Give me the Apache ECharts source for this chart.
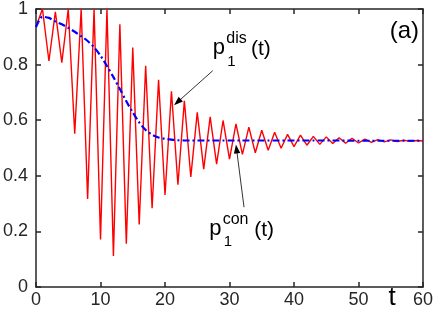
<!DOCTYPE html>
<html><head><meta charset="utf-8">
<script src="https://cdn.jsdelivr.net/npm/echarts@6/dist/echarts.min.js"></script>
<style>html,body{margin:0;padding:0;background:#fff}#c{width:436px;height:316px}</style>
</head><body><div id="c"></div>
<script>
const tValues = [0,1,2,3,4,5,6,7,8,9,10,11,12,13,14,15,16,17,18,19,20,21,22,23,24,25,26,27,28,29,30,31,32,33,34,35,36,37,38,39,40,41,42,43,44,45,46,47,48,49,50,51,52,53,54,55,56,57,58,59,60];
const pDis = [0.936,1.0,0.813,0.99,0.807,1.0,0.551,1.0,0.317,1.0,0.171,1.0,0.112,0.945,0.156,0.861,0.225,0.796,0.283,0.745,0.331,0.704,0.368,0.670,0.396,0.628,0.424,0.612,0.442,0.599,0.460,0.587,0.477,0.575,0.483,0.564,0.492,0.557,0.499,0.549,0.505,0.546,0.510,0.542,0.513,0.540,0.516,0.537,0.517,0.535,0.518,0.532,0.520,0.530,0.522,0.529,0.523,0.528,0.524,0.527,0.525];
const pCon = [0.935,0.972,0.968,0.955,0.945,0.932,0.918,0.902,0.885,0.862,0.832,0.795,0.755,0.712,0.668,0.628,0.592,0.565,0.548,0.538,0.533,0.530,0.528,0.527,0.527,0.527,0.527,0.527,0.527,0.527,0.527,0.527,0.527,0.527,0.527,0.527,0.527,0.527,0.527,0.527,0.527,0.527,0.527,0.527,0.527,0.527,0.527,0.527,0.527,0.526,0.526,0.526,0.526,0.526,0.526,0.526,0.526,0.526,0.526,0.526,0.526];
const xTicks = [0,10,20,30,40,50,60];
const yTicks = [0,0.2,0.4,0.6,0.8,1];
const axisColor = '#262626';
const FONT = '"Liberation Sans", Arial, sans-serif';

const chart = echarts.init(document.getElementById('c'), null, {renderer:'canvas'});
function xAx(pos, showLabel){
  return {type:'value', min:xTicks[0], max:xTicks[xTicks.length-1], interval:10, position:pos,
    axisLine:{show:true,onZero:false,lineStyle:{color:axisColor,width:1.5}},
    axisTick:{show:true,inside:true,length:5,lineStyle:{color:axisColor,width:1.5}},
    axisLabel:{show:showLabel,fontSize:18,color:axisColor,margin:4,fontFamily:FONT},
    splitLine:{show:false}};
}
function yAx(pos, showLabel){
  return {type:'value', min:yTicks[0], max:yTicks[yTicks.length-1], interval:0.2, position:pos,
    axisLine:{show:true,onZero:false,lineStyle:{color:axisColor,width:1.5}},
    axisTick:{show:true,inside:true,length:5,lineStyle:{color:axisColor,width:1.5}},
    axisLabel:{show:showLabel,fontSize:18,color:axisColor,margin:8,fontFamily:FONT},
    splitLine:{show:false}};
}
chart.setOption({
  animation:false,
  backgroundColor:'#fff',
  grid:{left:33,right:12,top:7,bottom:29,containLabel:false},
  xAxis:[xAx('bottom',true), xAx('top',false)],
  yAxis:[yAx('left',true), yAx('right',false)],
  series:[
    {type:'line', xAxisIndex:0, yAxisIndex:0, data:tValues.map((t,i)=>[t,pDis[i]]),
     showSymbol:false, symbol:'none', lineStyle:{color:'#ff0000',width:1.4}, clip:true},
    {type:'line', xAxisIndex:0, yAxisIndex:0, data:tValues.map((t,i)=>[t,pCon[i]]),
     showSymbol:false, symbol:'none', smooth:0.3, lineStyle:{color:'#0000ff',width:2.2,type:[7,3,2,3]}, clip:true}
  ]
});

function px(t,v){return chart.convertToPixel({xAxisIndex:0,yAxisIndex:0},[t,v]);}
function arrow(from,to){
  const dx=to[0]-from[0], dy=to[1]-from[1], L=Math.hypot(dx,dy), ux=dx/L, uy=dy/L;
  const hl=9, hw=3.2; const bx=to[0]-ux*hl, by=to[1]-uy*hl;
  return [
    {type:'line',shape:{x1:from[0],y1:from[1],x2:bx+ux*2,y2:by+uy*2},style:{stroke:'#000',lineWidth:0.8},z:10},
    {type:'polygon',shape:{points:[to,[bx-uy*hw,by+ux*hw],[bx+uy*hw,by-ux*hw]]},style:{fill:'#000'},z:10}
  ];
}
function txt(s,x,y,fs){
  return {type:'text',x:x,y:y,z:10,style:{text:s,fontSize:fs,fontFamily:FONT,fill:'#000',textAlign:'left',textVerticalAlign:'middle'}};
}
function label(anchor, sup, tDx){
  const [x,y]=anchor;
  return [
    txt('p',x,y-0.3*22,22),
    txt(sup,x+13.5,y-11-0.3*16,16),
    txt('1',x+14.5,y+12-0.3*15-0.5,15),
    txt('(t)',x+tDx,y-0.3*21+1,21)
  ];
}
const tPos = px(55.2,0);
const g = [].concat(
  arrow(px(27.4,0.778), px(21.4,0.654)),
  arrow(px(32.25,0.287), px(31.0,0.513)),
  label(px(27.4,0.836),'dis',38.3),
  label(px(26.85,0.186),'con',45),
  [{type:'text',x:tPos[0],y:tPos[1]+11,z:10,style:{text:'t',fontSize:26,fontFamily:FONT,fill:'#000',textAlign:'center',textVerticalAlign:'middle'}},
   {type:'text',right:17,top:19,z:10,style:{text:'(a)',fontSize:24,fontFamily:FONT,fill:'#000'}}]
);
chart.setOption({graphic:g});
</script></body></html>
